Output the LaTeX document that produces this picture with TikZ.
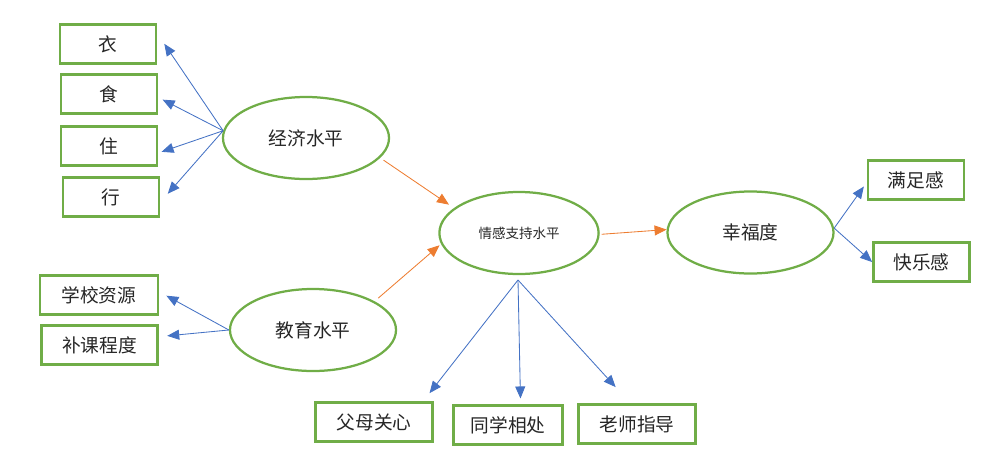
\documentclass[tikz,border=0pt]{standalone}
\usepackage{fontspec}
\newfontfamily\cjk{Noto Sans CJK SC}
\usetikzlibrary{arrows.meta,shapes.geometric}
\definecolor{boxgreen}{HTML}{70AD47}
\definecolor{linkblue}{HTML}{4472C4}
\definecolor{linkorange}{HTML}{ED7D31}

\begin{document}
\begin{tikzpicture}[
  x=0.025cm, y=-0.025cm,
  font=\cjk\fontsize{13.3}{16}\selectfont, text=black!85,
  item/.style={rectangle, draw=boxgreen, line width=1.9pt, inner sep=0pt,
               minimum width=2.4cm, minimum height=0.98cm},
  factor/.style={ellipse, draw=boxgreen, line width=1.6pt, inner sep=0pt,
                 minimum width=4.15cm, minimum height=2.05cm},
  arrow/.style={-{Triangle[length=3mm,width=2.5mm]}, draw=linkblue, line width=0.6pt},
  lead/.style={-{Triangle[length=3mm,width=2.5mm]}, draw=linkorange, line width=0.6pt}
]
\useasboundingbox (0,0) rectangle (982,469);

\node[item] (yi) at (108,44) {衣};
\node[item] (shi) at (109,94) {食};
\node[item] (zhu) at (109,146) {住};
\node[item] (xing) at (111,197) {行};
\node[item, minimum width=2.95cm] (xuexiao) at (99,295) {学校资源};
\node[item, minimum width=2.9cm] (buke) at (99.5,345) {补课程度};
\node[item, minimum width=2.92cm] (fumu) at (374,422) {父母关心};
\node[item, minimum width=2.72cm] (tongxue) at (508,425) {同学相处};
\node[item, minimum width=2.92cm] (laoshi) at (637,424) {老师指导};
\node[item] (manzu) at (916,180) {满足感};
\node[item] (kuaile) at (921.5,262) {快乐感};

\node[factor] (econ) at (306,138) {经济水平};
\node[factor] (edu) at (313,330) {教育水平};
\node[factor, minimum width=3.98cm, font=\cjk\fontsize{9.6}{12}\selectfont] (emo) at (519,233) {情感支持水平};
\node[factor] (happy) at (750.5,232.5) {幸福度};
\coordinate (emofoot) at (518,280);

\draw[arrow, shorten >=3.1mm] (econ.175) -- (yi.12);
\draw[arrow, shorten >=1.2mm] (econ.175) -- (shi.-4);
\draw[arrow, shorten >=0.85mm] (econ.175) -- (zhu.-8);
\draw[arrow, shorten >=2.8mm] (econ.175) -- (xing.-6);
\draw[arrow, shorten >=2mm] (edu.west) -- (xuexiao.3);
\draw[arrow, shorten >=2.1mm] (edu.west) -- (buke.8);
\draw[lead, shorten <=1mm, shorten >=1.5mm] (econ.-15) -- (emo.159);
\draw[lead, shorten <=1.2mm, shorten >=0.5mm] (edu.25) -- (emo.-172);
\draw[lead, shorten <=0.5mm] (emo.-1) -- (happy.178);
\draw[arrow, shorten >=2.5mm] (emofoot) -- (fumu.23);
\draw[arrow, shorten >=1.4mm] (emofoot) -- (tongxue.59);
\draw[arrow, shorten >=5.4mm] (emofoot) -- (laoshi.108);
\draw[arrow, shorten >=1.2mm] (happy.3) -- (manzu.-177);
\draw[arrow] (happy.3) -- (kuaile.west);
\end{tikzpicture}
\end{document}
